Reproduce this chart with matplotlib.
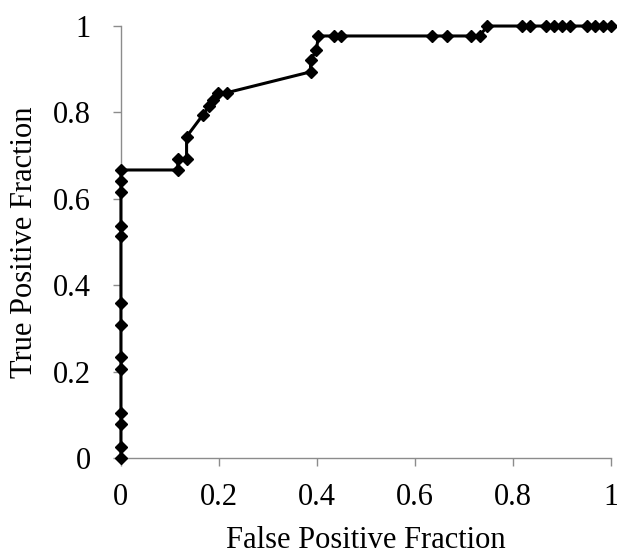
import matplotlib
matplotlib.use("Agg")
import matplotlib.pyplot as plt

fpr = [0, 0, 0, 0, 0, 0, 0, 0, 0, 0, 0, 0, 0,
       0.116, 0.116, 0.134, 0.134, 0.167, 0.180, 0.188, 0.199, 0.217,
       0.387, 0.387, 0.399, 0.403, 0.434, 0.449, 0.634, 0.666, 0.715, 0.732,
       0.748, 0.818, 0.834, 0.868, 0.884, 0.900, 0.916, 0.951, 0.967, 0.983, 1.0]
tpr = [0, 0.027, 0.079, 0.104, 0.206, 0.234, 0.308, 0.359, 0.514, 0.538, 0.617, 0.641, 0.667,
       0.667, 0.692, 0.692, 0.744, 0.794, 0.815, 0.828, 0.846, 0.846,
       0.894, 0.921, 0.944, 0.977, 0.977, 0.977, 0.977, 0.977, 0.977, 0.977,
       1.0, 1.0, 1.0, 1.0, 1.0, 1.0, 1.0, 1.0, 1.0, 1.0, 1.0]
ticks = [0, 0.2, 0.4, 0.6, 0.8, 1]
tick_labels = ["0", "0.2", "0.4", "0.6", "0.8", "1"]

plt.rcParams['font.family'] = ['Liberation Serif', 'DejaVu Serif']

fig = plt.figure(figsize=(6.17, 5.55), dpi=100)
ax = fig.add_axes([0.196, 0.1742, 0.794, 0.7789])
ax.plot(fpr, tpr, color='black', linewidth=2.2, marker='D', markersize=6.5,
        clip_on=False, zorder=3)
ax.set_xlim(0, 1)
ax.set_ylim(0, 1)
ax.set_xticks(ticks)
ax.set_xticklabels(tick_labels)
ax.set_yticks(ticks)
ax.set_yticklabels(tick_labels)
for s in ['top', 'right']:
    ax.spines[s].set_visible(False)
for s in ['bottom', 'left']:
    ax.spines[s].set_color('#8c8c8c')
    ax.spines[s].set_linewidth(1.0)
ax.tick_params(axis='both', colors='#8c8c8c', labelcolor='black', length=6,
               width=1.0, labelsize=22)
ax.tick_params(axis='y', pad=15.5)
ax.tick_params(axis='x', pad=12)
ax.set_xlabel("False Positive Fraction", fontsize=22, labelpad=9.5)
ax.set_ylabel("True Positive Fraction", fontsize=22, labelpad=10)
fig.savefig("out.png", dpi=100)
